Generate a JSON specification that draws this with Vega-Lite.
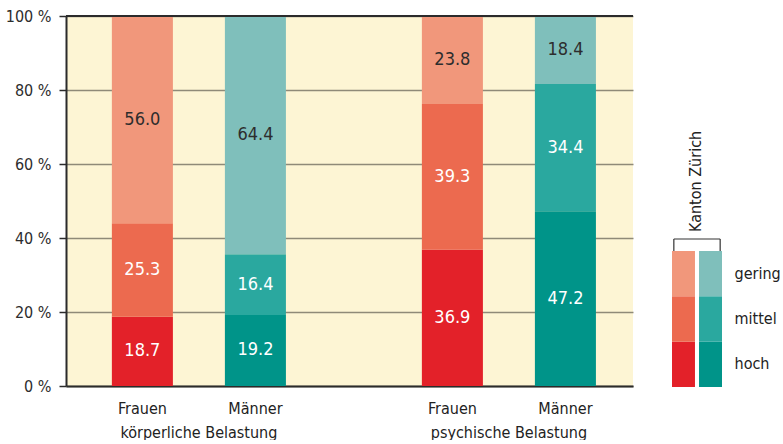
{
  "$schema": "https://vega.github.io/schema/vega-lite/v6.json",
  "padding": {"left": 5, "top": 8, "right": 0, "bottom": 0},
  "autosize": {"type": "pad"},
  "background": "white",
  "bounds": "flush",
  "spacing": 39,
  "datasets": {
    "belastung": [
      {"belastung": "körperliche Belastung", "geschlecht": "Frauen", "stufe": "hoch", "rang": 1, "kategorie": "Frauen hoch", "anteil": 18.7},
      {"belastung": "körperliche Belastung", "geschlecht": "Frauen", "stufe": "mittel", "rang": 2, "kategorie": "Frauen mittel", "anteil": 25.3},
      {"belastung": "körperliche Belastung", "geschlecht": "Frauen", "stufe": "gering", "rang": 3, "kategorie": "Frauen gering", "anteil": 56.0},
      {"belastung": "körperliche Belastung", "geschlecht": "Männer", "stufe": "hoch", "rang": 1, "kategorie": "Männer hoch", "anteil": 19.2},
      {"belastung": "körperliche Belastung", "geschlecht": "Männer", "stufe": "mittel", "rang": 2, "kategorie": "Männer mittel", "anteil": 16.4},
      {"belastung": "körperliche Belastung", "geschlecht": "Männer", "stufe": "gering", "rang": 3, "kategorie": "Männer gering", "anteil": 64.4},
      {"belastung": "psychische Belastung", "geschlecht": "Frauen", "stufe": "hoch", "rang": 1, "kategorie": "Frauen hoch", "anteil": 36.9},
      {"belastung": "psychische Belastung", "geschlecht": "Frauen", "stufe": "mittel", "rang": 2, "kategorie": "Frauen mittel", "anteil": 39.3},
      {"belastung": "psychische Belastung", "geschlecht": "Frauen", "stufe": "gering", "rang": 3, "kategorie": "Frauen gering", "anteil": 23.8},
      {"belastung": "psychische Belastung", "geschlecht": "Männer", "stufe": "hoch", "rang": 1, "kategorie": "Männer hoch", "anteil": 47.2},
      {"belastung": "psychische Belastung", "geschlecht": "Männer", "stufe": "mittel", "rang": 2, "kategorie": "Männer mittel", "anteil": 34.4},
      {"belastung": "psychische Belastung", "geschlecht": "Männer", "stufe": "gering", "rang": 3, "kategorie": "Männer gering", "anteil": 18.4}
    ]
  },
  "config": {
    "font": "DejaVu Sans Condensed, sans-serif",
    "view": {"stroke": null},
    "axis": {"labelFont": "DejaVu Sans Condensed, sans-serif", "labelColor": "#2d2d2d"},
    "text": {"font": "DejaVu Sans Condensed, sans-serif"}
  },
  "hconcat": [
    {
      "width": 567,
      "height": 370,
      "view": {"fill": "#fdf5d4", "stroke": null},
      "data": {"name": "belastung"},
      "encoding": {
        "x": {
          "field": "belastung", "type": "nominal",
          "scale": {"domain": ["körperliche Belastung", "psychische Belastung"], "paddingInner": 0.3, "paddingOuter": 0.0645, "align": 0.61},
          "axis": {"title": null, "labelAngle": 0, "ticks": false, "labelPadding": 38, "labelFontSize": 16, "domainColor": "#2b2b2b", "domainWidth": 2, "labelColor": "#222222"}
        },
        "xOffset": {
          "field": "geschlecht", "type": "nominal",
          "scale": {"domain": ["Frauen", "Männer"], "paddingInner": 0.46, "paddingOuter": 0.19}
        }
      },
      "layer": [
        {
          "mark": {"type": "bar"},
          "encoding": {
            "y": {
              "field": "anteil", "type": "quantitative", "stack": "zero",
              "scale": {"domain": [0, 100], "nice": false},
              "axis": {
                "title": null, "values": [0, 20, 40, 60, 80, 100],
                "labelExpr": "datum.value + ' %'",
                "labelFontSize": 16, "labelPadding": 8,
                "tickSize": 7, "tickColor": "#2b2b2b", "tickWidth": 1.5,
                "domainColor": "#2b2b2b", "domainWidth": 2,
                "grid": true, "gridColor": "#8f8a78", "gridWidth": 1.5
              }
            },
            "order": {"field": "rang", "type": "quantitative", "sort": "ascending"},
            "color": {
              "field": "kategorie", "type": "nominal", "legend": null,
              "scale": {
                "domain": ["Frauen hoch", "Frauen mittel", "Frauen gering", "Männer hoch", "Männer mittel", "Männer gering"],
                "range": ["#e32129", "#ec6a4f", "#f1977b", "#009489", "#2aa89f", "#7fbfbb"]
              }
            }
          }
        },
        {
          "mark": {"type": "text", "fontSize": 18, "baseline": "middle"},
          "encoding": {
            "y": {"field": "anteil", "type": "quantitative", "stack": "zero", "bandPosition": 0.5},
            "order": {"field": "rang", "type": "quantitative", "sort": "ascending"},
            "text": {"field": "anteil", "type": "quantitative", "format": ".1f"},
            "color": {"condition": {"test": "datum.stufe === 'gering'", "value": "#2d2d2d"}, "value": "#ffffff"}
          }
        },
        {
          "transform": [{"filter": "datum.stufe === 'hoch'"}],
          "mark": {"type": "text", "fontSize": 16, "baseline": "middle", "dy": 23, "color": "#222222"},
          "encoding": {
            "y": {"datum": 0, "type": "quantitative"},
            "text": {"field": "geschlecht", "type": "nominal"}
          }
        },
        {
          "data": {"values": [{"wert": 100}]},
          "mark": {"type": "rule", "color": "#2b2b2b", "strokeWidth": 2},
          "encoding": {
            "y": {"field": "wert", "type": "quantitative"},
            "x": null,
            "xOffset": null
          }
        }
      ]
    },
    {
      "width": 50,
      "height": 370,
      "view": {"stroke": null, "fill": null},
      "layer": [
        {
          "data": {"name": "belastung"},
          "transform": [{"filter": "datum.belastung === 'körperliche Belastung'"}],
          "mark": {"type": "rect"},
          "encoding": {
            "x": {"field": "geschlecht", "type": "nominal", "scale": {"type": "band", "domain": ["Frauen", "Männer"], "paddingInner": 0.15, "paddingOuter": 0}, "axis": null},
            "y": {"field": "stufe", "type": "nominal", "scale": {"type": "band", "domain": ["gering", "mittel", "hoch"], "range": [235, 371], "paddingInner": 0, "paddingOuter": 0}, "axis": null},
            "color": {"field": "kategorie", "type": "nominal", "legend": null}
          }
        },
        {
          "data": {"name": "belastung"},
          "transform": [{"filter": "datum.belastung === 'körperliche Belastung' && datum.geschlecht === 'Männer'"}],
          "mark": {"type": "text", "align": "left", "baseline": "middle", "dx": 24, "fontSize": 16, "color": "#222222"},
          "encoding": {
            "x": {"field": "geschlecht", "type": "nominal"},
            "y": {"field": "stufe", "type": "nominal"},
            "text": {"field": "stufe", "type": "nominal"}
          }
        },
        {
          "data": {"values": [{"label": "Kanton Zürich"}]},
          "mark": {"type": "text", "angle": 270, "align": "left", "baseline": "middle", "dx": 19, "dy": -3, "fontSize": 16, "color": "#222222"},
          "encoding": {
            "x": {"datum": "Männer", "type": "nominal", "bandPosition": 0},
            "y": {"datum": "gering", "type": "nominal", "bandPosition": 0},
            "text": {"field": "label", "type": "nominal"}
          }
        },
        {
          "data": {"values": [{"label": "Kanton Zürich"}]},
          "mark": {"type": "rule", "color": "#333333", "strokeWidth": 1.2},
          "encoding": {
            "x": {"datum": "Frauen", "type": "nominal", "bandPosition": 0.08},
            "x2": {"datum": "Männer", "bandPosition": 0.92},
            "y": {"datum": "gering", "type": "nominal", "bandPosition": 0},
            "yOffset": {"value": -12}
          }
        },
        {
          "data": {"values": [{"label": "Kanton Zürich"}]},
          "mark": {"type": "rule", "color": "#333333", "strokeWidth": 1.2},
          "encoding": {
            "x": {"datum": "Frauen", "type": "nominal", "bandPosition": 0.08},
            "y": {"datum": "gering", "type": "nominal", "bandPosition": 0},
            "y2": {"datum": "gering", "bandPosition": 0},
            "yOffset": {"value": -12},
            "y2Offset": {"value": -6}
          }
        },
        {
          "data": {"values": [{"label": "Kanton Zürich"}]},
          "mark": {"type": "rule", "color": "#333333", "strokeWidth": 1.2},
          "encoding": {
            "x": {"datum": "Männer", "type": "nominal", "bandPosition": 0.92},
            "y": {"datum": "gering", "type": "nominal", "bandPosition": 0},
            "y2": {"datum": "gering", "bandPosition": 0},
            "yOffset": {"value": -12},
            "y2Offset": {"value": -6}
          }
        }
      ]
    }
  ]
}
